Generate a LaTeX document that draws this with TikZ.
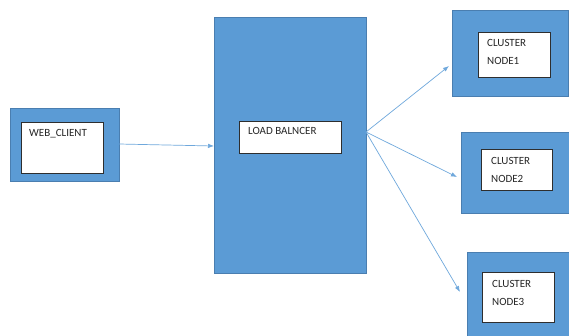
\documentclass[tikz,border=0pt]{standalone}
\usepackage{fontspec}
\setmainfont{Carlito}
\usetikzlibrary{arrows.meta}
\definecolor{boxblue}{HTML}{5B9BD5}
\definecolor{boxedge}{HTML}{4A7EB0}
\definecolor{linkblue}{HTML}{6FA8DC}
\definecolor{inneredge}{HTML}{2E2E2E}
\begin{document}
\begin{tikzpicture}[x=1pt,y=-1pt,
  outerbox/.style={draw=boxedge,fill=boxblue,line width=0.7pt,inner sep=0pt,outer sep=0pt},
  innerbox/.style={draw=inneredge,fill=white,line width=0.8pt,inner sep=0pt,outer sep=0pt},
  caption/.style={anchor=north west,align=left,inner sep=0pt,font=\fontsize{11}{18}\selectfont,text=black!85},
  link/.style={draw=linkblue,line width=0.7pt,-{Latex[length=6pt,width=4.5pt]}}]
\useasboundingbox (0,0) rectangle (569,335);
\fill[white] (0,0) rectangle (569,335);

% web client
\node[outerbox,minimum width=109pt,minimum height=73pt] (web) at (64.5,144.5) {};
\node[innerbox,minimum width=82pt,minimum height=51pt] (webin) at (62,147.5) {};
\node[caption] (webtxt) at (29,129.5) {WEB\_CLIENT};

% load balancer
\node[outerbox,minimum width=152pt,minimum height=256pt] (lb) at (290,145) {};
\node[innerbox,minimum width=102pt,minimum height=32pt] (lbin) at (290,137) {};
\node[caption] (lbtxt) at (248,127.5) {LOAD BALNCER};

% cluster nodes
\node[outerbox,minimum width=116pt,minimum height=86pt] (c1) at (510,53) {};
\node[innerbox,minimum width=72pt,minimum height=45pt] (c1in) at (514,54.5) {};
\node[caption] (c1txt) at (487,39.5) {CLUSTER\\NODE1};

\node[outerbox,minimum width=111pt,minimum height=81pt] (c2) at (516.5,172.5) {};
\node[innerbox,minimum width=71pt,minimum height=41pt] (c2in) at (516.5,169.5) {};
\node[caption] (c2txt) at (491,157) {CLUSTER\\NODE2};

\node[outerbox,minimum width=106pt,minimum height=88pt] (c3) at (520,296) {};
\node[innerbox,minimum width=72pt,minimum height=50pt] (c3in) at (518,297) {};
\node[caption] (c3txt) at (492,280.5) {CLUSTER\\NODE3};

% connector ends
\coordinate (webout) at (web.east |- 0,144);
\coordinate (lbin-pt) at (lb.west |- 0,146);
\coordinate (fan) at (lb.east |- 0,132);
\coordinate (t1) at (449,66);
\coordinate (t2) at (457,177);
\coordinate (t3) at (460,292);

\draw[link] (webout) -- (lbin-pt);
\draw[link] (fan) -- (t1);
\draw[link] (fan) -- (t2);
\draw[link] (fan) -- (t3);
\end{tikzpicture}
\end{document}
